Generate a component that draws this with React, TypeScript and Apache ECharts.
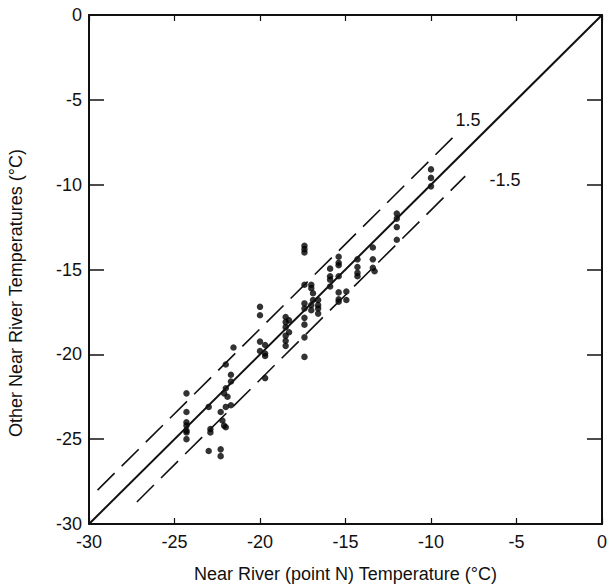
import React, { useEffect, useRef } from "react";
import * as echarts from "echarts";

const xTicks = [-30, -25, -20, -15, -10, -5, 0];
const yTicks = [-30, -25, -20, -15, -10, -5, 0];

// Observed temperatures: [near river point N, other near river point]
const obsCol1: number[][] = [
  [-24.3, -22.3], [-24.3, -23.4], [-24.3, -24.0], [-24.3, -24.2], [-24.3, -24.5], [-24.3, -24.6], [-24.3, -25.0],
  [-23.0, -23.1], [-22.9, -24.4], [-22.9, -24.6], [-23.0, -25.7],
];
const obsCol2: number[][] = [
  [-22.3, -23.4], [-22.2, -23.9], [-22.1, -24.2], [-22.0, -24.3], [-22.3, -25.6], [-22.3, -26.0],
  [-22.0, -23.1], [-21.7, -23.0], [-22.0, -22.0], [-22.1, -22.3], [-21.9, -22.5], [-21.7, -21.6],
  [-22.0, -20.6], [-21.7, -21.2], [-21.55, -19.6],
];
const obsCol3: number[][] = [
  [-20.0, -17.2], [-20.0, -17.7], [-20.0, -19.25], [-20.0, -19.8],
  [-19.7, -19.45], [-19.7, -19.95], [-19.7, -20.1], [-19.7, -21.4],
  [-18.5, -17.8], [-18.5, -18.1], [-18.5, -18.4], [-18.5, -18.9], [-18.5, -19.2], [-18.5, -19.5],
  [-18.3, -18.0], [-18.3, -18.7],
];
const obsCol4: number[][] = [
  [-17.4, -13.6], [-17.4, -13.8], [-17.4, -14.0], [-17.4, -15.9], [-17.4, -17.0], [-17.4, -17.3],
  [-17.4, -17.85], [-17.4, -18.25], [-17.4, -19.0], [-17.4, -20.15],
  [-17.0, -15.9], [-17.0, -16.1], [-16.9, -16.4], [-16.9, -16.8], [-17.0, -17.1], [-17.0, -17.4],
  [-16.6, -16.8], [-16.6, -17.1], [-16.6, -17.3], [-16.6, -17.6],
];
const obsCol5: number[][] = [
  [-15.9, -14.95], [-15.9, -15.4], [-15.9, -15.6], [-15.9, -16.0],
  [-15.4, -14.25], [-15.4, -14.6], [-15.4, -14.75], [-15.4, -15.4], [-15.4, -16.35], [-15.4, -16.75], [-15.4, -16.9],
  [-14.95, -16.3], [-14.95, -16.8],
  [-14.3, -14.4], [-14.3, -14.85], [-14.3, -15.2], [-14.3, -15.4],
  [-13.4, -13.7], [-13.4, -14.4], [-13.4, -14.9], [-13.3, -15.1],
];
const obsCol6: number[][] = [
  [-12.0, -11.7], [-12.0, -12.0], [-12.0, -12.5], [-12.0, -13.25],
  [-10.0, -9.1], [-10.0, -9.6], [-10.0, -10.1],
];
const observations = [...obsCol1, ...obsCol2, ...obsCol3, ...obsCol4, ...obsCol5, ...obsCol6];

const lineOneToOne: number[][] = [[-30, -30], [0, 0]];
const linePlus: number[][] = [[-29.5, -28.0], [-8.5, -7.0]];
const lineMinus: number[][] = [[-27.2, -28.7], [-8.0, -9.5]];
const bandLabels = ["1.5", "-1.5"];

const FONT = "Liberation Sans, Arial, Helvetica, sans-serif";
const INK = "#111";

export default function App() {
  const ref = useRef<HTMLDivElement>(null);
  useEffect(() => {
    if (!ref.current) return;
    const chart = echarts.init(ref.current, undefined, { renderer: "svg" });
    const axisLine = { show: true, onZero: false, lineStyle: { color: INK, width: 2 } };
    chart.setOption({
      animation: false,
      backgroundColor: "#fff",
      grid: { left: 89, top: 15, right: 3, bottom: 64 },
      xAxis: [
        {
          type: "value", min: xTicks[0], max: xTicks[xTicks.length - 1], interval: 5,
          position: "bottom",
          axisLine,
          axisTick: { show: true, inside: true, length: 6, lineStyle: { color: INK, width: 1.2 } },
          axisLabel: { color: INK, fontSize: 18, fontFamily: FONT, margin: 9 },
          splitLine: { show: false },
          name: "Near River (point N) Temperature (°C)",
          nameLocation: "middle", nameGap: 41,
          nameTextStyle: { color: INK, fontSize: 18, fontFamily: FONT },
        },
        {
          type: "value", min: xTicks[0], max: xTicks[xTicks.length - 1], interval: 5,
          position: "top",
          axisLine,
          axisTick: { show: true, inside: true, length: 6, lineStyle: { color: INK, width: 1.2 } },
          axisLabel: { show: false },
          splitLine: { show: false },
        },
      ],
      yAxis: [
        {
          type: "value", min: yTicks[0], max: yTicks[yTicks.length - 1], interval: 5,
          position: "left",
          axisLine,
          axisTick: { show: true, inside: true, length: 15, lineStyle: { color: INK, width: 1.5 } },
          axisLabel: { color: INK, fontSize: 18, fontFamily: FONT, margin: 7 },
          splitLine: { show: false },
        },
        {
          type: "value", min: yTicks[0], max: yTicks[yTicks.length - 1], interval: 5,
          position: "right",
          axisLine,
          axisTick: { show: true, inside: true, length: 15, lineStyle: { color: INK, width: 1.5 } },
          axisLabel: { show: false },
          splitLine: { show: false },
        },
      ],
      graphic: [
        {
          type: "text", x: 16, y: 293, rotation: Math.PI / 2,
          style: {
            text: "Other Near River Temperatures (°C)", fill: INK, fontSize: 18, fontFamily: FONT,
            align: "center", verticalAlign: "middle",
          },
        },
        {
          type: "text", x: 468, y: 120,
          style: { text: bandLabels[0], fill: INK, fontSize: 18, fontFamily: FONT, align: "center", verticalAlign: "middle" },
        },
        {
          type: "text", x: 505, y: 180,
          style: { text: bandLabels[1], fill: INK, fontSize: 18, fontFamily: FONT, align: "center", verticalAlign: "middle" },
        },
      ],
      series: [
        {
          type: "line", data: lineOneToOne, symbol: "none", silent: true,
          lineStyle: { color: INK, width: 2, type: "solid" },
        },
        {
          type: "line", data: linePlus, symbol: "none", silent: true,
          lineStyle: { color: INK, width: 1.6, type: [24, 10] },
        },
        {
          type: "line", data: lineMinus, symbol: "none", silent: true,
          lineStyle: { color: INK, width: 1.6, type: [24, 10] },
        },
        {
          type: "scatter", data: observations, symbol: "circle", symbolSize: 6.5,
          itemStyle: { color: "#000" },
        },
      ],
    });
    return () => chart.dispose();
  }, []);
  return <div ref={ref} style={{ position: "absolute", left: 0, top: 0, width: 610, height: 588 }} />;
}
